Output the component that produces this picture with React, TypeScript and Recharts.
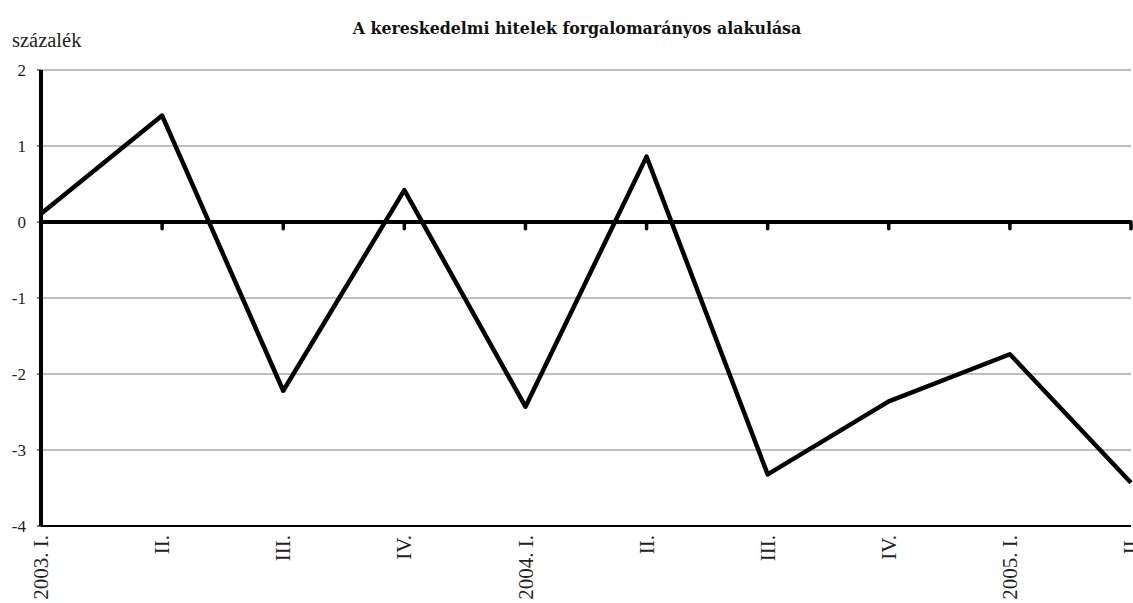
import React from 'react';
import { LineChart, Line, XAxis, YAxis, CartesianGrid, ReferenceLine } from 'recharts';

const quarterLabels = ['2003. I.', 'II.', 'III.', 'IV.', '2004. I.', 'II.', 'III.', 'IV.', '2005. I.', 'II.'];
const values = [0.11, 1.4, -2.22, 0.42, -2.43, 0.86, -3.32, -2.36, -1.74, -3.43];
const yTicks = [-4, -3, -2, -1, 0, 1, 2];
const xIndex = quarterLabels.map((_, i) => i);

const data = xIndex.map((i) => ({ i, v: values[i] }));

const FONT = '"Liberation Serif", "Times New Roman", serif';

const XTick = (props: any) => {
  const { x, y, payload } = props;
  const label = quarterLabels[payload.value] ?? '';
  return (
    <text
      x={x}
      y={y}
      transform={`rotate(-90, ${x}, ${y})`}
      textAnchor="end"
      dy="0.34em"
      style={{ fontFamily: FONT, fontSize: 21, fill: '#222' }}
    >
      {label}
    </text>
  );
};

const YTick = (props: any) => {
  const { x, y, payload } = props;
  return (
    <text x={x} y={y} textAnchor="end" dy="0.34em" style={{ fontFamily: FONT, fontSize: 17, fill: '#222' }}>
      {payload.value}
    </text>
  );
};

export default function App() {
  return (
    <div style={{ position: 'absolute', left: 0, top: 0, width: 1133, height: 603, background: '#fff' }}>
      <svg width={1133} height={603} style={{ position: 'absolute', left: 0, top: 0 }}>
        <text
          x={577}
          y={34}
          textAnchor="middle"
          style={{ fontFamily: '"DejaVu Serif", serif', fontWeight: 'bold', fontSize: 15.8, fill: '#111' }}
        >
          A kereskedelmi hitelek forgalomarányos alakulása
        </text>
        <text x={12} y={47} style={{ fontFamily: FONT, fontSize: 20.5, fill: '#222' }}>
          százalék
        </text>
      </svg>
      <div style={{ position: 'absolute', left: 0, top: 0 }}>
        <LineChart width={1133} height={603} data={data} margin={{ top: 70, right: 2, bottom: 0, left: 0 }}>
          <CartesianGrid horizontal vertical={false} stroke="#808080" strokeWidth={1} />
          <XAxis
            xAxisId="top"
            orientation="top"
            dataKey="i"
            type="number"
            domain={[0, 9]}
            height={0}
            tick={false}
            tickLine={false}
            axisLine={{ stroke: '#000', strokeWidth: 2 }}
          />
          <XAxis
            dataKey="i"
            type="number"
            domain={[0, 9]}
            ticks={xIndex}
            interval={0}
            height={77}
            tickSize={0}
            tickMargin={9}
            tickLine={false}
            axisLine={{ stroke: '#000', strokeWidth: 2 }}
            tick={<XTick />}
          />
          <YAxis
            domain={[-4, 2]}
            ticks={yTicks}
            interval={0}
            width={41}
            tickSize={4}
            tickMargin={11}
            tickLine={{ stroke: '#000', strokeWidth: 1 }}
            axisLine={{ stroke: '#000', strokeWidth: 4 }}
            tick={<YTick />}
          />
          <YAxis
            yAxisId="right"
            orientation="right"
            domain={[-4, 2]}
            width={0}
            tick={false}
            tickLine={false}
            axisLine={{ stroke: '#000', strokeWidth: 2 }}
          />
          <ReferenceLine y={0} stroke="#000" strokeWidth={4} />
          {xIndex.slice(1).map((i) => (
            <ReferenceLine
              key={i}
              segment={[{ x: i, y: 0 }, { x: i, y: -0.09 }]}
              stroke="#000"
              strokeWidth={3.5}
              strokeLinecap="round"
            />
          ))}
          <Line
            type="linear"
            dataKey="v"
            stroke="#000"
            strokeWidth={4.5}
            strokeLinejoin="round"
            dot={false}
            activeDot={false}
            isAnimationActive={false}
          />
        </LineChart>
      </div>
    </div>
  );
}
